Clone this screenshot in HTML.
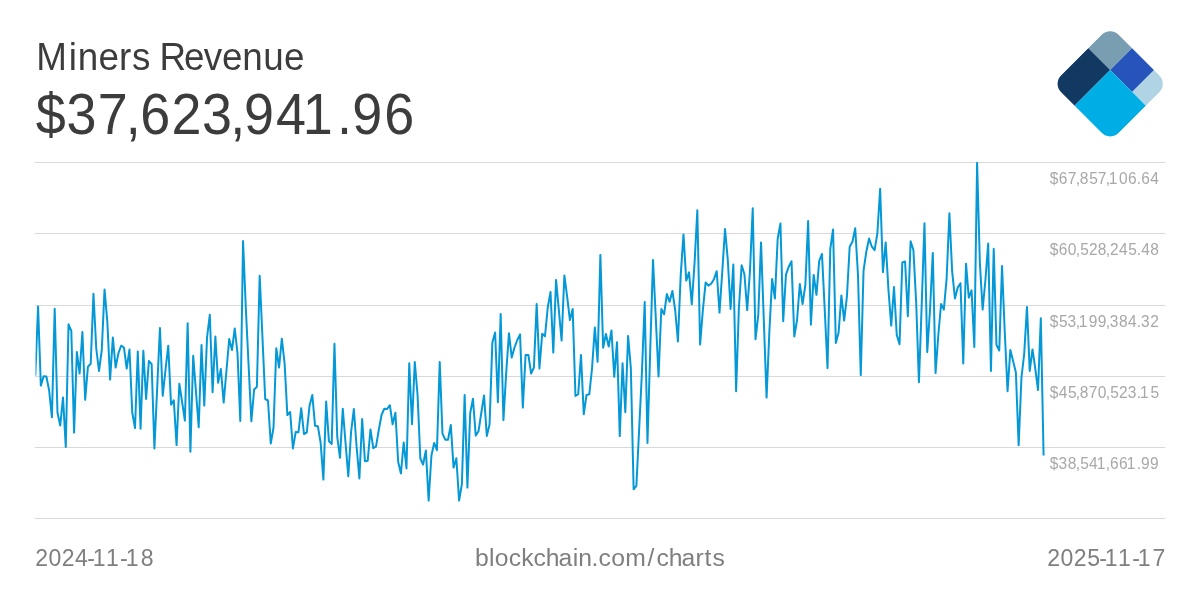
<!DOCTYPE html>
<html><head><meta charset="utf-8">
<style>
html,body{margin:0;padding:0;background:#fff;}
body{width:1200px;height:600px;position:relative;overflow:hidden;font-family:"Liberation Sans",sans-serif;}
svg{position:absolute;left:0;top:0;}
text{font-family:"Liberation Sans",sans-serif;}
</style></head><body>
<svg width="1200" height="600" viewBox="0 0 1200 600">
<defs><clipPath id="plot"><rect x="35.5" y="161.6" width="1129.5" height="357"/></clipPath>
<clipPath id="lc"><rect x="0" y="0" width="81.6" height="81.6" rx="12.2" ry="12.2"/></clipPath></defs>
<g stroke="#d9d9d9" stroke-width="1" shape-rendering="crispEdges">
<line x1="35" x2="1165" y1="162.5" y2="162.5"/>
<line x1="35" x2="1165" y1="233.5" y2="233.5"/>
<line x1="35" x2="1165" y1="305.5" y2="305.5"/>
<line x1="35" x2="1165" y1="376.5" y2="376.5"/>
<line x1="35" x2="1165" y1="447.5" y2="447.5"/>
<line x1="35" x2="1165" y1="518.5" y2="518.5"/>
</g>
<polyline clip-path="url(#plot)" fill="none" stroke="#0499d6" stroke-width="2" stroke-linejoin="round" points="35.30,375.8 38.07,306.5 40.84,385.6 43.61,376.3 46.38,376.5 49.15,390.5 51.92,417.3 54.69,308.7 57.46,412.5 60.23,425.6 63.00,397.4 65.77,447.0 68.54,324.3 71.31,330.8 74.08,432.6 76.85,352.0 79.62,373.5 82.39,332.0 85.16,399.8 87.93,366.7 90.70,363.8 93.47,293.7 96.24,348.3 99.01,371.0 101.78,350.0 104.55,289.4 107.32,321.7 110.09,379.6 112.86,337.4 115.63,367.6 118.40,353.3 121.17,345.7 123.94,347.5 126.71,368.5 129.48,349.4 132.25,412.5 135.02,428.1 137.79,351.5 140.56,428.8 143.33,350.7 146.10,399.0 148.87,361.0 151.64,364.2 154.41,448.5 157.18,388.0 159.95,328.0 162.72,395.8 165.49,370.0 168.26,345.7 171.03,404.6 173.80,400.4 176.57,445.1 179.34,383.7 182.11,402.0 184.88,420.6 187.65,323.2 190.42,451.8 193.19,355.7 195.96,391.5 198.73,427.3 201.50,344.9 204.27,405.6 207.04,337.5 209.81,314.7 212.58,392.3 215.35,336.5 218.12,382.8 220.89,369.0 223.66,402.6 226.43,371.0 229.20,339.0 231.97,350.1 234.74,328.5 237.51,353.3 240.28,421.0 243.05,241.0 245.82,308.0 248.59,365.0 251.36,421.3 254.13,389.5 256.90,386.7 259.67,275.7 262.44,337.0 265.21,399.0 267.98,400.5 270.75,443.5 273.52,427.5 276.29,348.2 279.06,367.6 281.83,338.7 284.60,363.3 287.37,415.1 290.14,412.0 292.91,448.5 295.68,432.0 298.45,432.3 301.22,408.2 303.99,434.0 306.76,432.5 309.53,405.8 312.30,394.9 315.07,425.8 317.84,426.2 320.61,442.5 323.38,479.6 326.15,401.5 328.92,441.3 331.69,444.0 334.46,343.7 337.23,436.7 340.00,457.8 342.77,408.7 345.54,443.0 348.31,476.3 351.08,432.0 353.85,409.0 356.62,447.0 359.39,478.5 362.16,419.0 364.93,461.3 367.70,460.8 370.47,429.4 373.24,448.0 376.01,446.7 378.78,430.0 381.55,415.0 384.32,408.7 387.09,409.0 389.86,405.2 392.63,424.3 395.40,412.7 398.17,461.7 400.94,473.5 403.71,442.4 406.48,468.5 409.25,363.2 412.02,424.3 414.79,362.0 417.56,395.0 420.33,458.5 423.10,464.5 425.87,450.4 428.64,500.6 431.41,455.8 434.18,442.9 436.95,450.1 439.72,362.0 442.49,433.7 445.26,439.7 448.03,439.7 450.80,424.9 453.57,467.6 456.34,458.2 459.11,500.6 461.88,484.2 464.65,394.9 467.42,487.6 470.19,413.3 472.96,398.7 475.73,435.6 478.50,431.3 481.27,413.0 484.04,395.4 486.81,436.0 489.58,424.2 492.35,342.5 495.12,332.4 497.89,402.3 500.66,314.0 503.43,420.1 506.20,373.0 508.97,333.2 511.74,357.6 514.51,347.5 517.28,340.0 520.05,334.4 522.82,407.6 525.59,355.0 528.36,354.9 531.13,373.5 533.90,367.5 536.67,304.0 539.44,368.5 542.21,333.7 544.98,336.3 547.75,307.5 550.52,292.0 553.29,352.6 556.06,279.9 558.83,310.0 561.60,340.6 564.37,275.4 567.14,296.7 569.91,320.1 572.68,309.0 575.45,396.0 578.22,394.2 580.99,354.9 583.76,414.3 586.53,394.9 589.30,394.3 592.07,368.0 594.84,327.4 597.61,361.8 600.38,254.9 603.15,347.8 605.92,334.0 608.69,346.5 611.46,330.4 614.23,376.8 617.00,342.2 619.77,436.1 622.54,363.2 625.31,412.3 628.08,336.0 630.85,368.0 633.62,489.3 636.39,485.8 639.16,429.0 641.93,372.5 644.70,302.0 647.47,443.0 650.24,350.0 653.01,259.9 655.78,318.0 658.55,376.5 661.32,309.0 664.09,314.3 666.86,294.0 669.63,301.8 672.40,291.0 675.17,310.0 677.94,341.5 680.71,275.0 683.48,234.4 686.25,280.6 689.02,272.4 691.79,304.3 694.56,263.0 697.33,210.2 700.10,344.6 702.87,310.0 705.64,282.4 708.41,285.6 711.18,283.7 713.95,279.2 716.72,271.2 719.49,312.6 722.26,271.7 725.03,229.0 727.80,260.0 730.57,309.0 733.34,264.4 736.11,391.3 738.88,308.0 741.65,265.2 744.42,274.2 747.19,310.1 749.96,271.0 752.73,208.2 755.50,339.3 758.27,315.0 761.04,242.4 763.81,320.0 766.58,397.6 769.35,332.0 772.12,279.0 774.89,298.5 777.66,239.0 780.43,223.5 783.20,321.3 785.97,274.7 788.74,266.7 791.51,261.2 794.28,336.5 797.05,320.0 799.82,284.0 802.59,304.0 805.36,285.0 808.13,221.0 810.90,324.8 813.67,274.9 816.44,294.8 819.21,260.8 821.98,254.0 824.75,310.0 827.52,368.1 830.29,249.0 833.06,229.4 835.83,343.0 838.60,332.5 841.37,295.4 844.14,320.6 846.91,296.7 849.68,246.7 852.45,241.7 855.22,228.2 857.99,275.0 860.76,375.1 863.53,270.8 866.30,251.7 869.07,238.5 871.84,246.7 874.61,250.1 877.38,233.3 880.15,188.7 882.92,272.1 885.69,242.4 888.46,290.0 891.23,325.6 894.00,287.0 896.77,335.0 899.54,344.3 902.31,262.5 905.08,261.5 907.85,316.3 910.62,241.2 913.39,250.0 916.16,302.0 918.93,382.3 921.70,305.0 924.47,223.2 927.24,352.1 930.01,310.0 932.78,253.0 935.55,373.1 938.32,335.0 941.09,304.0 943.86,309.6 946.63,278.3 949.40,213.2 952.17,271.7 954.94,298.5 957.71,287.5 960.48,283.2 963.25,363.5 966.02,263.7 968.79,297.6 971.56,290.4 974.33,347.1 977.10,162.7 979.87,263.0 982.64,309.6 985.41,280.0 988.18,243.5 990.95,371.0 993.72,248.7 996.49,345.0 999.26,350.5 1002.03,266.0 1004.80,333.0 1007.57,391.3 1010.34,349.9 1013.11,361.0 1015.88,372.5 1018.65,445.3 1021.42,378.0 1024.19,354.0 1026.96,307.0 1029.73,370.9 1032.50,349.4 1035.27,368.5 1038.04,390.0 1040.81,318.2 1043.58,455.6"/>
<text transform="scale(0.9570,1)" x="37.88 71.85 81.15 102.86 124.32 138.06 157.82 166.62 192.18 212.90 231.97 253.23 275.15 296.84" y="70" font-size="38.45" fill="#3c3c3c">Miners Revenue</text>
<text transform="scale(0.9400,1)" x="38.05 70.68 104.05 133.67 149.34 182.49 215.02 244.84 259.71 293.66 322.17 358.61 374.82 408.81" y="134" font-size="57.35" fill="#3c3c3c">$37,623,941.96</text>
<g fill="#a8a8a8">
<text transform="scale(0.9400,1)" x="1116.79 1126.39 1135.82 1144.35 1148.79 1158.67 1167.87 1176.40 1179.57 1190.39 1200.06 1209.20 1214.11 1223.67" y="184.2" font-size="16.53">$67,857,106.64</text>
<text transform="scale(0.9400,1)" x="1116.79 1126.39 1135.87 1144.35 1149.11 1158.42 1167.93 1176.40 1180.91 1190.48 1200.29 1209.20 1214.10 1223.59" y="255.2" font-size="16.53">$60,528,245.48</text>
<text transform="scale(0.9400,1)" x="1116.79 1126.62 1135.77 1144.35 1147.52 1158.21 1167.78 1176.40 1180.73 1190.40 1200.05 1209.20 1213.91 1223.67" y="327.2" font-size="16.53">$53,199,384.32</text>
<text transform="scale(0.9400,1)" x="1116.79 1126.38 1136.19 1144.35 1148.79 1158.29 1167.92 1176.40 1181.16 1190.47 1199.86 1209.20 1212.75 1223.91" y="398.2" font-size="16.53">$45,870,523.15</text>
<text transform="scale(0.9400,1)" x="1116.79 1126.19 1135.88 1144.35 1149.11 1158.43 1166.65 1176.40 1180.93 1190.48 1198.70 1209.20 1213.87 1223.45" y="469.2" font-size="16.53">$38,541,661.99</text>
</g><g fill="#7f7f7f">
<text transform="scale(0.9300,1)" x="37.95 52.03 66.34 80.55 93.79 99.73 113.93 129.17 135.11 151.22" y="566" font-size="24.80">2024-11-18</text>
<text transform="scale(1.0000,1)" x="475.06 488.95 494.72 508.65 521.19 533.44 545.81 558.60 572.86 578.36 591.59 598.49 611.14 625.28 647.57 656.40 668.78 681.55 695.62 704.48 712.51" y="566" font-size="24.70">blockchain.com/charts</text>
<text transform="scale(0.9300,1)" x="1126.17 1140.25 1154.56 1169.12 1182.01 1187.95 1202.14 1217.39 1223.33 1239.35" y="566" font-size="24.80">2025-11-17</text>
</g>
<g transform="translate(1110.2,83.8) rotate(45) translate(-40.8,-40.8)">
<g clip-path="url(#lc)">
<rect x="0" y="0" width="31.1" height="31.1" fill="#799eb2"/>
<rect x="0" y="31.1" width="31.1" height="50.5" fill="#123962"/>
<rect x="31.1" y="0" width="31.1" height="31.1" fill="#2754ba"/>
<rect x="62.2" y="0" width="19.4" height="31.1" fill="#b1d4e5"/>
<rect x="31.1" y="31.1" width="50.5" height="50.5" fill="#00aee6"/>
</g>
</g>
</svg>
</body></html>
